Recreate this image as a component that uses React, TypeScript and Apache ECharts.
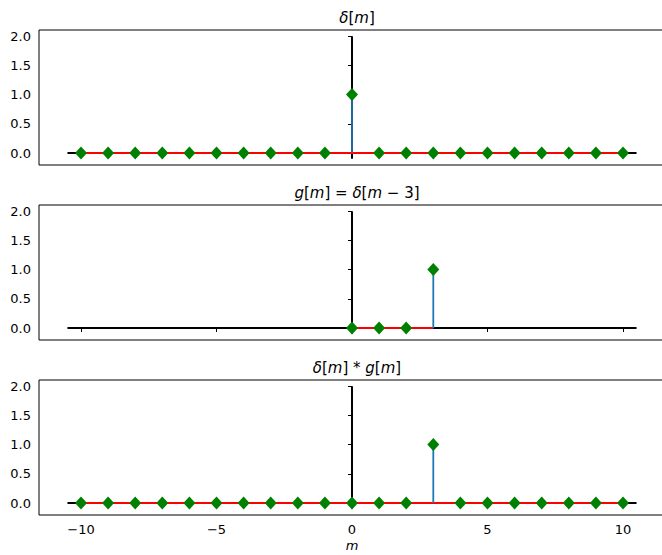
import React, { useEffect, useRef } from "react";
import * as echarts from "echarts";

const M = [-10, -9, -8, -7, -6, -5, -4, -3, -2, -1, 0, 1, 2, 3, 4, 5, 6, 7, 8, 9, 10];
const DELTA = [0, 0, 0, 0, 0, 0, 0, 0, 0, 0, 1, 0, 0, 0, 0, 0, 0, 0, 0, 0, 0];
const G_M = [0, 1, 2, 3];
const G = [0, 0, 0, 1];
const CONV = [0, 0, 0, 0, 0, 0, 0, 0, 0, 0, 0, 0, 0, 1, 0, 0, 0, 0, 0, 0, 0];
const H_LINE_X = [-10.5, 10.5];
const V_LINE_Y = [-0.1, 2];
const X_TICKS = [-10, -5, 0, 5, 10];
const Y_TICKS = [0, 0.5, 1, 1.5, 2];

const TITLES = [
  "{i|δ}{n|[}{i|m}{n|]}",
  "{i|g}{n|[}{i|m}{n|] = }{i|δ}{n|[}{i|m}{n| − 3]}",
  "{i|δ}{n|[}{i|m}{n|] * }{i|g}{n|[}{i|m}{n|]}",
];

const PANELS = [
  { m: M, v: DELTA },
  { m: G_M, v: G },
  { m: M, v: CONV },
];

const FONT = "DejaVu Sans";
const GRID_TOPS = [30, 205, 380];
const GRID_H = 135;
const GRID_LEFT = 39;
const GRID_W = 626;

export default function App() {
  const ref = useRef<HTMLDivElement>(null);
  useEffect(() => {
    if (!ref.current) return;
    const chart = echarts.init(ref.current, undefined, { renderer: "svg" });
    const fmtX = (v: number) => (v < 0 ? "\u2212" + Math.abs(v) : String(v));
    const grids: any[] = [];
    const xAxes: any[] = [];
    const yAxes: any[] = [];
    const titles: any[] = [];
    const series: any[] = [];
    PANELS.forEach((p, i) => {
      grids.push({
        left: GRID_LEFT,
        top: GRID_TOPS[i],
        width: GRID_W,
        height: GRID_H,
        show: true,
        borderColor: "#000",
        borderWidth: 1,
        backgroundColor: "transparent",
        outerBoundsMode: "none",
        containLabel: false,
      });
      const last = i === PANELS.length - 1;
      xAxes.push({
        type: "value",
        gridIndex: i,
        min: -11.55,
        max: 11.55,
        axisLine: { show: false },
        splitLine: { show: false },
        axisTick: {
          show: true,
          customValues: X_TICKS,
          length: 4,
          lineStyle: { color: "#000", width: 1 },
        },
        axisLabel: {
          show: last,
          customValues: X_TICKS,
          formatter: fmtX,
          color: "#000",
          fontFamily: FONT,
          fontSize: 13,
          margin: 8,
        },
        name: last ? "m" : "",
        nameLocation: "middle",
        nameGap: 24,
        nameTextStyle: { fontFamily: FONT, fontStyle: "italic", fontSize: 13, color: "#000" },
      });
      yAxes.push({
        type: "value",
        gridIndex: i,
        min: -0.205,
        max: 2.105,
        axisLine: { show: false },
        splitLine: { show: false },
        axisTick: {
          show: true,
          customValues: Y_TICKS,
          length: 4,
          lineStyle: { color: "#000", width: 1 },
        },
        axisLabel: {
          customValues: Y_TICKS,
          formatter: (v: number) => v.toFixed(1),
          color: "#000",
          fontFamily: FONT,
          fontSize: 13,
          margin: 8,
        },
      });
      titles.push({
        text: TITLES[i],
        left: GRID_LEFT + GRID_W / 2,
        textAlign: "center",
        top: GRID_TOPS[i] - 25,
        textStyle: {
          fontFamily: FONT,
          fontSize: 15,
          fontWeight: "normal",
          color: "#000",
          rich: {
            i: { fontFamily: FONT, fontSize: 15, fontStyle: "italic", color: "#000" },
            n: { fontFamily: FONT, fontSize: 15, color: "#000" },
          },
        },
      });
      const common = { xAxisIndex: i, yAxisIndex: i, silent: true };
      series.push({
        ...common,
        type: "line",
        data: [
          [H_LINE_X[0], 0],
          [H_LINE_X[1], 0],
        ],
        showSymbol: false,
        lineStyle: { color: "#000", width: 2 },
        z: 1,
      });
      series.push({
        ...common,
        type: "line",
        data: [
          [0, V_LINE_Y[0]],
          [0, V_LINE_Y[1]],
        ],
        showSymbol: false,
        lineStyle: { color: "#000", width: 2 },
        z: 2,
      });
      series.push({
        ...common,
        type: "line",
        data: [
          [p.m[0], 0],
          [p.m[p.m.length - 1], 0],
        ],
        showSymbol: false,
        lineStyle: { color: "#ff0000", width: 2 },
        z: 3,
      });
      const pts = p.m.map((m, k) => [m, p.v[k]]);
      series.push({
        ...common,
        type: "custom",
        data: pts,
        z: 4,
        renderItem: (params: any, api: any) => {
          const x = api.value(0);
          const y = api.value(1);
          const p0 = api.coord([x, 0]);
          const p1 = api.coord([x, y]);
          return {
            type: "line",
            shape: { x1: p0[0], y1: p0[1], x2: p1[0], y2: p1[1] },
            style: { stroke: "#1f77b4", lineWidth: 1.8 },
          };
        },
      });
      series.push({
        ...common,
        type: "scatter",
        data: pts,
        symbol: "diamond",
        symbolSize: [12, 13],
        itemStyle: { color: "#008000", opacity: 1 },
        z: 5,
      });
    });
    chart.setOption({
      animation: false,
      backgroundColor: "#fff",
      title: titles,
      grid: grids,
      xAxis: xAxes,
      yAxis: yAxes,
      series,
    });
    return () => chart.dispose();
  }, []);
  return (
    <div style={{ position: "absolute", left: 0, top: 0, width: 662, height: 555, overflow: "hidden" }}>
      <div ref={ref} style={{ width: 662, height: 555 }} />
    </div>
  );
}
